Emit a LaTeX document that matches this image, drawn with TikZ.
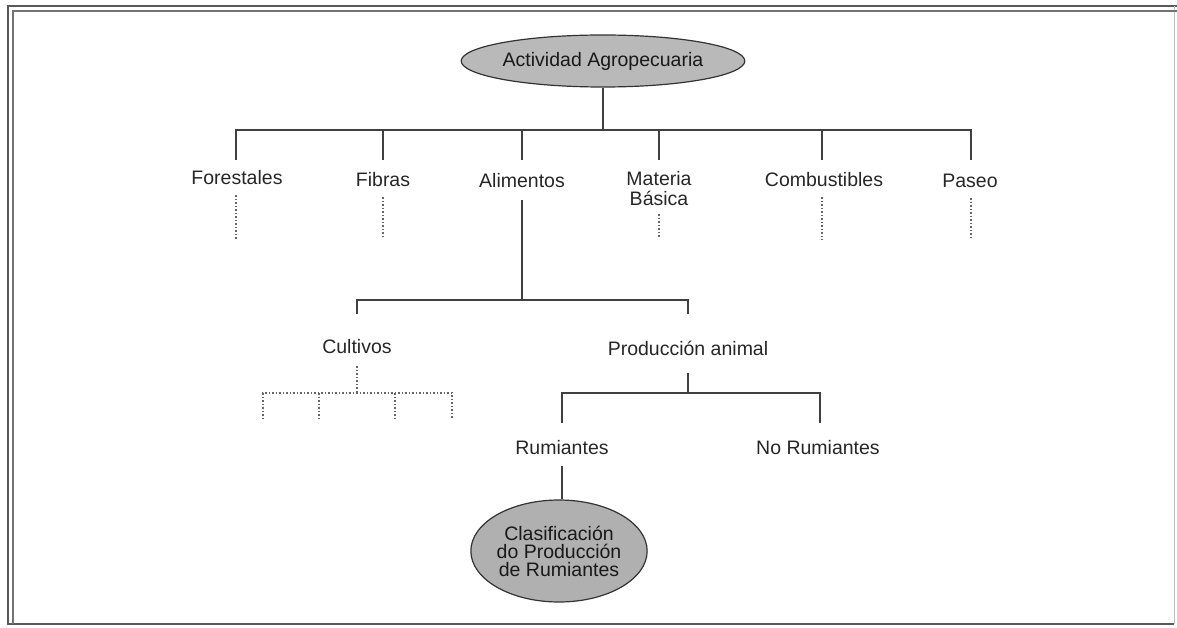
\documentclass[tikz,border=0pt]{standalone}
\usepackage{fontspec}
\setmainfont{Liberation Sans}
\tikzset{
  lbl/.style={inner sep=0pt, font=\fontsize{19.5}{20}\selectfont, align=center, text=black!85},
  oval/.style={ellipse, draw=black!80, line width=1.2pt, fill=gray!55, inner sep=0pt, align=center, text=black!90},
  solidln/.style={draw=black!75, line width=1.6pt},
  dotln/.style={draw=black!60, line width=1.2pt, dash pattern=on 1.5pt off 2pt},
}
\usetikzlibrary{shapes.geometric}
\begin{document}
\begin{tikzpicture}[x=1pt,y=-1pt]
\useasboundingbox (0,0) rectangle (1177,628);
% frame
\draw[black!65, line width=2pt] (1177,6) -- (8,6) -- (8,624) -- (1174,624);
\draw[black!25, line width=1pt] (1174,624) -- (1174,6);
\draw[black!55, line width=1.5pt] (1177,11) -- (13,11) -- (13,624);
% nodes
\node[oval, minimum width=237pt, minimum height=52pt, font=\fontsize{19.5}{20}\selectfont] (root) at (603,61) {Actividad Agropecuaria};
\node[lbl] (fore) at (237,178) {Forestales};
\node[lbl] (fib) at (383,180) {Fibras};
\node[lbl] (ali) at (522,181) {Alimentos};
\node[lbl] (mat) at (659,189) {Materia\\Básica};
\node[lbl] (comb) at (824,180) {Combustibles};
\node[lbl] (pas) at (970,181) {Paseo};
\node[lbl] (cult) at (357,347) {Cultivos};
\node[lbl] (prod) at (688,348) {Producción animal};
\node[lbl] (rum) at (562,448) {Rumiantes};
\node[lbl] (norum) at (818,448) {No Rumiantes};
\node[oval, minimum width=157pt, minimum height=102pt, fill=gray!62, font=\fontsize{19.5}{18}\selectfont] (clas) at (559,551) {Clasificación\\do Producción\\de Rumiantes};
% coordinates
\coordinate (b0) at (603,130);
\coordinate (bF) at (236,130);
\coordinate (bFi) at (383,130);
\coordinate (bA) at (522,130);
\coordinate (bM) at (659,130);
\coordinate (bC) at (822,130);
\coordinate (bP) at (971,130);
\coordinate (tF) at (236,160);
\coordinate (tFi) at (383,160);
\coordinate (tA) at (522,160);
\coordinate (tM) at (659,160);
\coordinate (tC) at (822,160);
\coordinate (tP) at (971,160);
% top bar
\draw[solidln] (root.south) -- (b0);
\draw[solidln] (tF) -- (bF) -- (bP) -- (tP);
\draw[solidln] (bFi) -- (tFi);
\draw[solidln] (bA) -- (tA);
\draw[solidln] (bM) -- (tM);
\draw[solidln] (bC) -- (tC);
% dotted stubs
\coordinate (dF) at (236,240);
\coordinate (dFi) at (383,238);
\coordinate (dM) at (659,238);
\coordinate (dC) at (822,240);
\coordinate (dP) at (971,240);
\draw[dotln] ([yshift=-10pt]fore.south -| dF) -- (dF);
\draw[dotln] ([yshift=-10pt]fib.south -| dFi) -- (dFi);
\draw[dotln] ([yshift=-8pt]mat.south -| dM) -- (dM);
\draw[dotln] ([yshift=-10pt]comb.south -| dC) -- (dC);
\draw[dotln] ([yshift=-10pt]pas.south -| dP) -- (dP);
% alimentos
\coordinate (a1) at (522,300);
\coordinate (aL) at (357,300);
\coordinate (aR) at (688,300);
\coordinate (aLd) at (357,314);
\coordinate (aRd) at (688,314);
\draw[solidln] ([yshift=-12pt]ali.south) -- (a1);
\draw[solidln] (aLd) -- (aL) -- (aR) -- (aRd);
% cultivos dotted
\coordinate (c0) at (357,393);
\coordinate (c1) at (263,393);
\coordinate (c2) at (319,393);
\coordinate (c3) at (395,393);
\coordinate (c4) at (452,393);
\coordinate (c1d) at (263,419);
\coordinate (c2d) at (319,419);
\coordinate (c3d) at (395,419);
\coordinate (c4d) at (452,419);
\draw[dotln] ([yshift=-12pt]cult.south) -- (c0);
\draw[dotln] (c1d) -- (c1) -- (c4) -- (c4d);
\draw[dotln] (c2) -- (c2d);
\draw[dotln] (c3) -- (c3d);
% produccion animal
\coordinate (p0) at (688,393);
\coordinate (pL) at (562,393);
\coordinate (pR) at (820,393);
\coordinate (pLd) at (562,423);
\coordinate (pRd) at (820,423);
\draw[solidln] ([yshift=-18pt]prod.south) -- (p0);
\draw[solidln] (pLd) -- (pL) -- (pR) -- (pRd);
% rumiantes
\draw[solidln] ([yshift=-11pt]rum.south) -- (rum.south |- clas.north);
\end{tikzpicture}
\end{document}
